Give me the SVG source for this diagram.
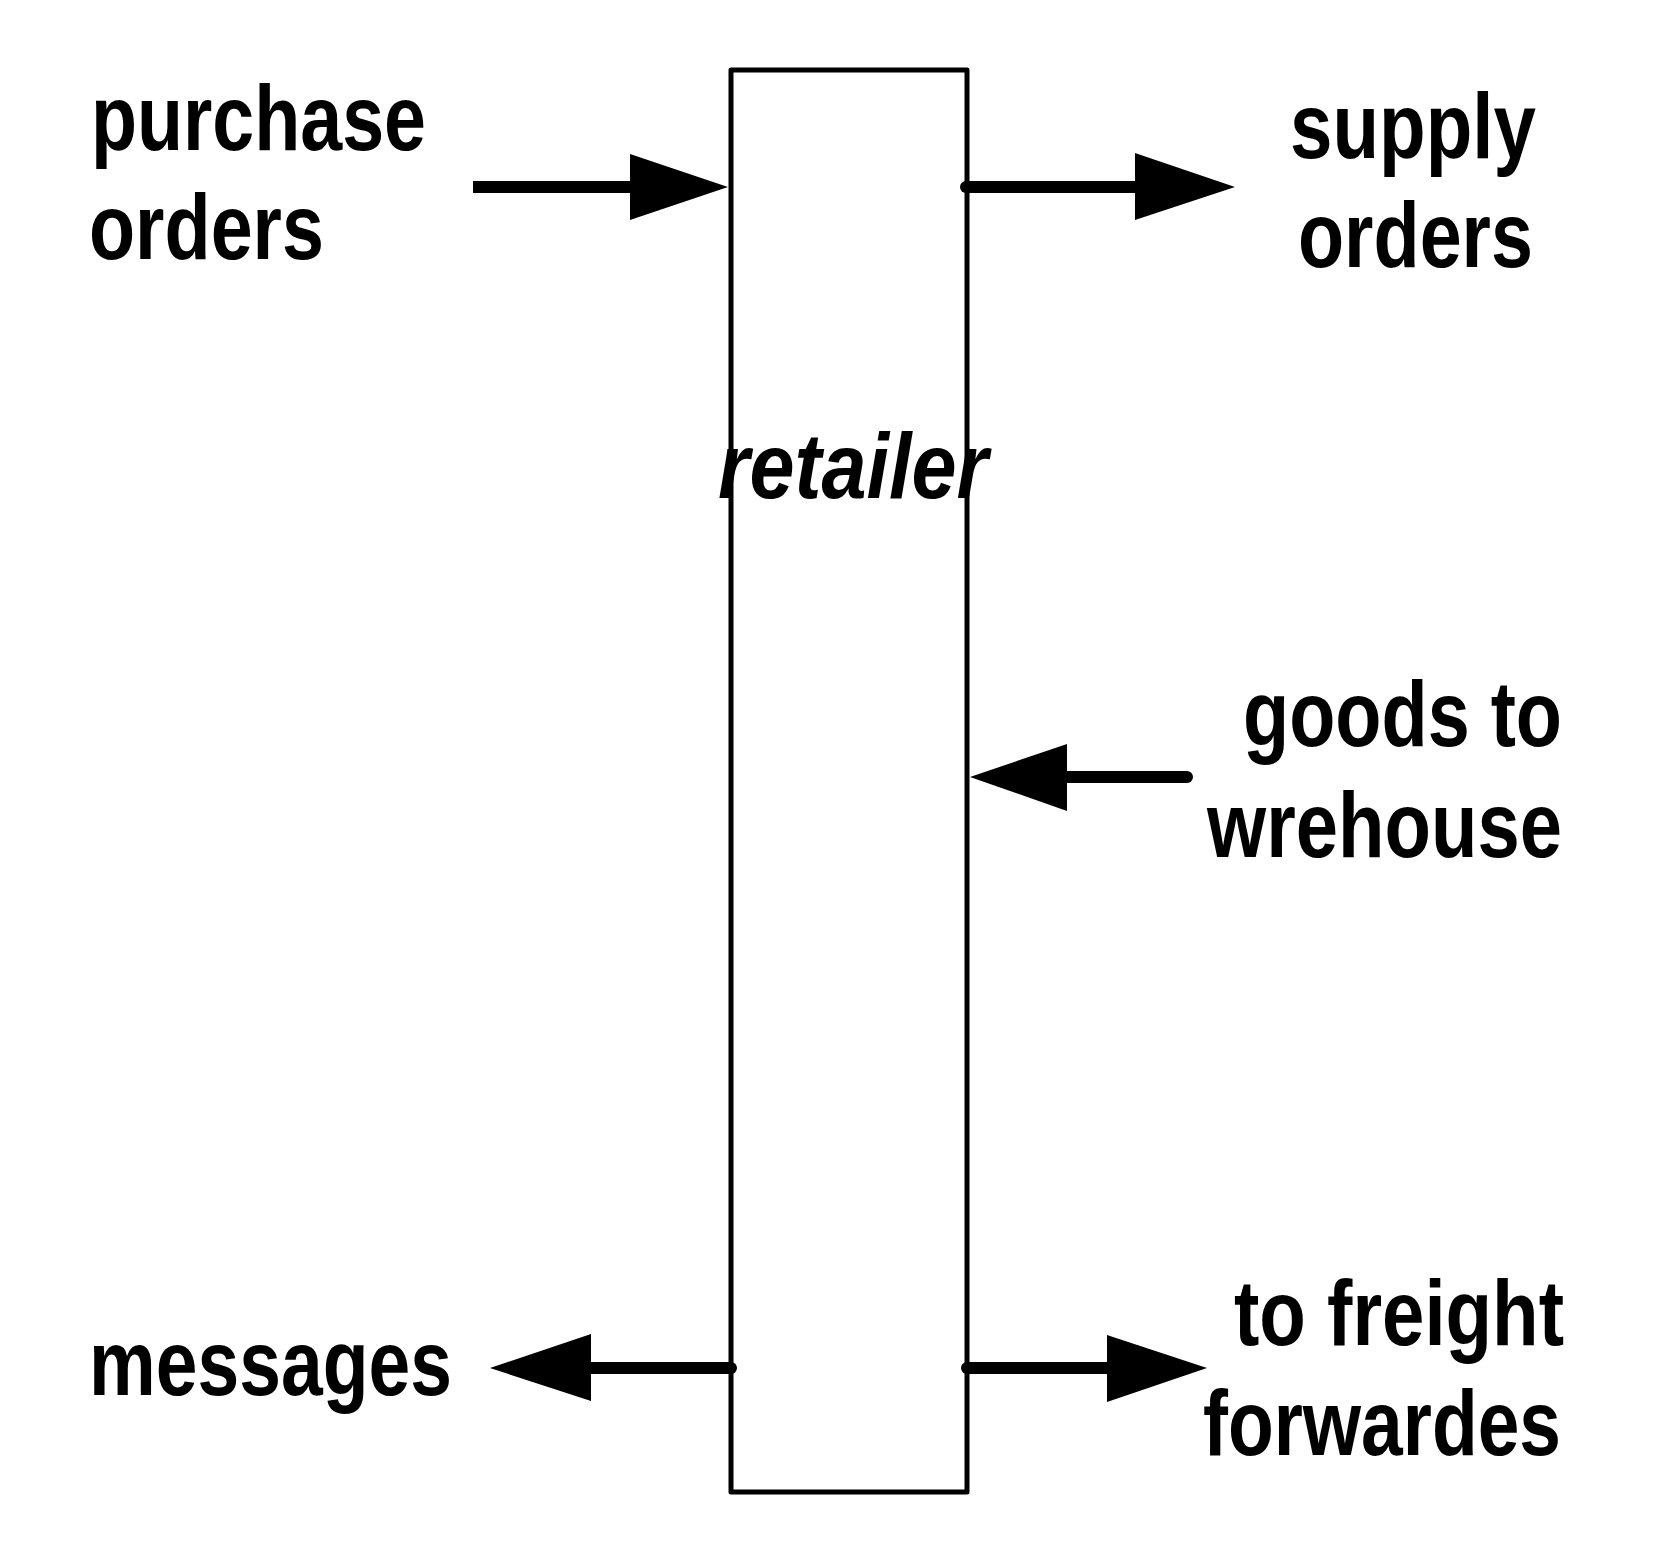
<svg xmlns="http://www.w3.org/2000/svg" width="1669" height="1562" viewBox="0 0 1669 1562">
<style>
.lbl{font-family:"Liberation Sans",Arial,sans-serif;font-weight:bold;font-size:93px;fill:#000}
.it{font-style:italic}
.ln{stroke:#000;stroke-width:12;fill:none}
.hd{fill:#000;stroke:none}
.box{fill:#fff;stroke:#000;stroke-width:5;stroke-linejoin:round}
</style>
<rect width="1669" height="1562" fill="#fff"/>
<g id="retailer">
<rect class="box" x="731" y="70" width="236" height="1422"/>
<text class="lbl it" x="718" y="498" textLength="270" lengthAdjust="spacingAndGlyphs">retailer</text>
</g>
<g id="purchase-orders">
<text class="lbl" x="91" y="150" textLength="335" lengthAdjust="spacingAndGlyphs">purchase</text>
<text class="lbl" x="89" y="259" textLength="235" lengthAdjust="spacingAndGlyphs">orders</text>
</g>
<g id="supply-orders">
<text class="lbl" x="1290" y="158" textLength="246" lengthAdjust="spacingAndGlyphs">supply</text>
<text class="lbl" x="1298" y="267" textLength="235" lengthAdjust="spacingAndGlyphs">orders</text>
</g>
<g id="goods-to-wrehouse">
<text class="lbl" x="1243" y="746" textLength="319" lengthAdjust="spacingAndGlyphs">goods to</text>
<text class="lbl" x="1207" y="857" textLength="355" lengthAdjust="spacingAndGlyphs">wrehouse</text>
</g>
<g id="messages">
<text class="lbl" x="89" y="1395" textLength="363" lengthAdjust="spacingAndGlyphs">messages</text>
</g>
<g id="to-freight-forwardes">
<text class="lbl" x="1234" y="1345" textLength="330" lengthAdjust="spacingAndGlyphs">to freight</text>
<text class="lbl" x="1203" y="1455" textLength="358" lengthAdjust="spacingAndGlyphs">forwardes</text>
</g>
<g id="connectors">
<path class="ln" d="M473 187H632"/>
<polygon class="hd" points="630,154 728,187 630,220"/>
<path class="ln" d="M966 187H1137" stroke-linecap="round"/>
<polygon class="hd" points="1135,153 1235,187 1135,220"/>
<path class="ln" d="M1187 777H1065" stroke-linecap="round"/>
<polygon class="hd" points="1067,744 970,777 1067,811"/>
<path class="ln" d="M731 1368H589" stroke-linecap="round"/>
<polygon class="hd" points="591,1334 490,1368 591,1401"/>
<path class="ln" d="M967 1368H1109" stroke-linecap="round"/>
<polygon class="hd" points="1107,1335 1207,1368 1107,1402"/>
</g>
</svg>
